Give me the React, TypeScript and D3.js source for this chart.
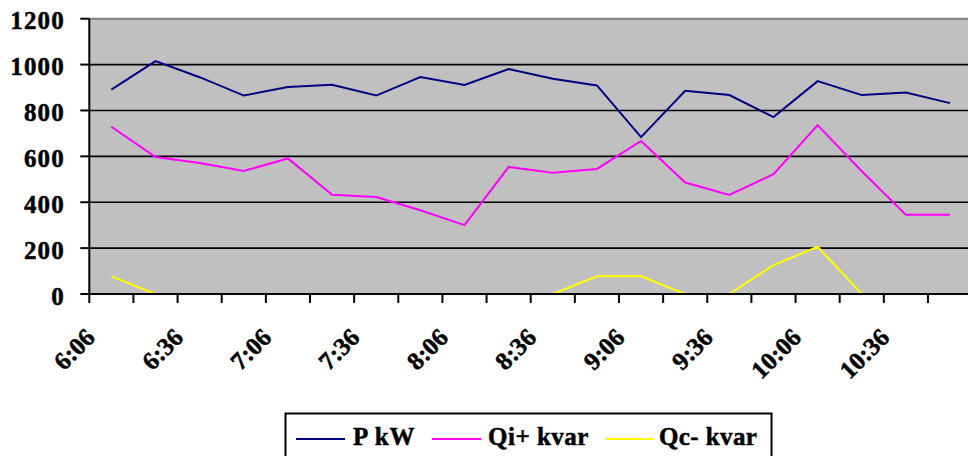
import React from "react";
import * as d3 from "d3";

const categories = [
  "6:06", "6:21", "6:36", "6:51", "7:06", "7:21", "7:36", "7:51", "8:06", "8:21",
  "8:36", "8:51", "9:06", "9:21", "9:36", "9:51", "10:06", "10:21", "10:36", "10:51",
];
const pKW = [891, 1015, 945, 865, 902, 912, 865, 946, 911, 981, 938, 909, 684, 886, 867, 771, 928, 867, 878, 832];
const qiKvar = [729, 597, 571, 536, 591, 433, 423, 365, 300, 554, 528, 545, 667, 486, 432, 522, 736, 535, 345, 345];
const qcKvar = [77, 0, 0, 0, 0, 0, 0, 0, 0, 0, 0, 77, 77, 0, 0, 126, 206, 0, 0, 0];
const yTicks = [0, 200, 400, 600, 800, 1000, 1200];
const seriesNames = ["P kW", "Qi+ kvar", "Qc- kvar"];
const seriesColors = ["#000080", "#FF00FF", "#FFFF00"];

const FONT = '"Liberation Serif", "Times New Roman", serif';

export default function App() {
  const left = 89.3;
  const top = 18.7;
  const bottom = 294;
  const step = 44.14;
  const right = left + step * categories.length;

  const x = d3.scaleBand<string>().domain(categories).range([left, right]).padding(0);
  const y = d3.scaleLinear().domain([0, 1200]).range([bottom, top]);
  const cx = (i: number) => (x(categories[i]) as number) + x.bandwidth() / 2;

  const line = d3
    .line<number>()
    .x((_, i) => cx(i))
    .y((d) => y(d));

  const series = [pKW, qiKvar, qcKvar];

  const legendItems = [
    { x1: 296, x2: 345, tx: 353, ls: 0.8 },
    { x1: 432, x2: 481, tx: 488, ls: 0.5 },
    { x1: 605, x2: 653, tx: 659, ls: 0.4 },
  ];

  return (
    <svg
      width={968}
      height={456}
      style={{ position: "absolute", left: 0, top: 0, background: "#fff" }}
      fontFamily={FONT}
      fontWeight="bold"
    >
      <defs>
        <clipPath id="plotclip">
          <rect x={left} y={top} width={right - left} height={bottom - top} />
        </clipPath>
      </defs>
      {/* plot area */}
      <rect x={left} y={top} width={right - left} height={bottom - top} fill="#C0C0C0" />
      {/* gridlines */}
      {yTicks
        .filter((t) => t > 0 && t < 1200)
        .map((t) => (
          <line key={t} x1={left} x2={right} y1={y(t)} y2={y(t)} stroke="#000" strokeWidth={1.6} />
        ))}
      <line x1={left} x2={right} y1={y(1200)} y2={y(1200)} stroke="#808080" strokeWidth={2} />

      {/* series */}
      <g clipPath="url(#plotclip)">
        {series.map((s, k) => (
          <path key={k} d={line(s) as string} fill="none" stroke={seriesColors[k]} strokeWidth={2} />
        ))}
      </g>

      {/* axes */}
      <line x1={left} x2={left} y1={top} y2={bottom + 1} stroke="#000" strokeWidth={2} />
      <line x1={left - 1} x2={right} y1={bottom} y2={bottom} stroke="#000" strokeWidth={2} />
      {yTicks.map((t) => (
        <g key={t}>
          <line x1={left - 9} x2={left} y1={y(t)} y2={y(t)} stroke="#000" strokeWidth={2} />
          <text
            x={65}
            y={y(t) + 10.5}
            textAnchor="end"
            fontSize={25}
            letterSpacing={1.2}
            fill="#000"
            stroke="#000"
            strokeWidth={0.5}
          >
            {t}
          </text>
        </g>
      ))}
      {categories.map((c, i) => (
        <line
          key={"t" + i}
          x1={(x(c) as number)}
          x2={(x(c) as number)}
          y1={bottom}
          y2={bottom + 9}
          stroke="#000"
          strokeWidth={2}
        />
      ))}
      {categories.map((c, i) =>
        i % 2 === 0 ? (
          <text
            key={"l" + i}
            transform={`translate(${cx(i) - 15},${339}) rotate(-45)`}
            textAnchor="end"
            fontSize={25}
            fill="#000"
            stroke="#000"
            strokeWidth={0.5}
          >
            {c}
          </text>
        ) : null
      )}

      {/* legend */}
      <rect x={285.5} y={413.5} width={486} height={60} fill="#fff" stroke="#000" strokeWidth={2} />
      {legendItems.map((it, k) => (
        <g key={k}>
          <line x1={it.x1} x2={it.x2} y1={439} y2={439} stroke={seriesColors[k]} strokeWidth={2} />
          <text
            x={it.tx}
            y={445}
            fontSize={25}
            letterSpacing={it.ls}
            fill="#000"
            stroke="#000"
            strokeWidth={0.5}
          >
            {seriesNames[k]}
          </text>
        </g>
      ))}
    </svg>
  );
}
